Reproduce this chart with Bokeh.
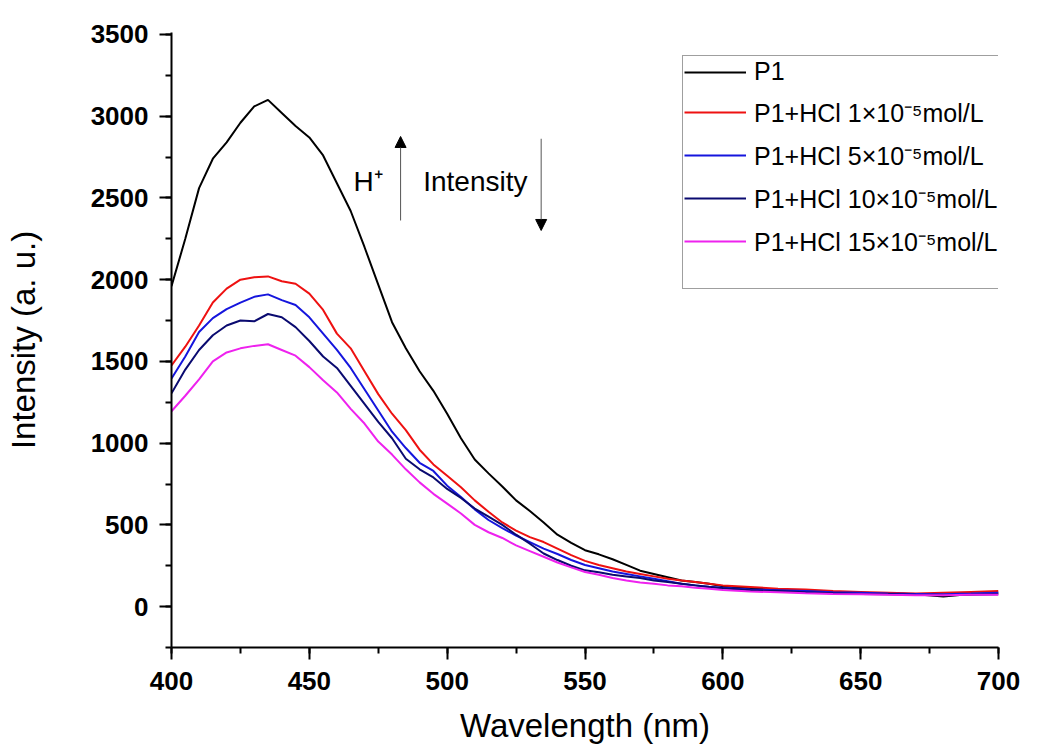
from bokeh.plotting import figure
from bokeh.models import Range1d, Legend, LegendItem, Arrow, NormalHead, Label, SingleIntervalTicker
from bokeh.embed import file_html
from bokeh.resources import INLINE

wavelength = [400, 405, 410, 415, 420, 425, 430, 435, 440, 445, 450, 455, 460, 465, 470,
              475, 480, 485, 490, 495, 500, 505, 510, 515, 520, 525, 530, 535, 540, 545,
              550, 555, 560, 565, 570, 575, 580, 585, 590, 595, 600,
              610, 620, 630, 640, 650, 660, 670, 680, 690, 700]

p1 = [1960, 2250, 2560, 2740, 2840, 2960, 3060, 3100, 3020, 2940, 2870, 2760, 2590, 2420, 2200,
      1970, 1740, 1580, 1440, 1320, 1180, 1030, 900, 815, 735, 650, 585, 515, 440, 390,
      345, 320, 290, 255, 220, 200, 180, 160, 150, 140, 125,
      112, 105, 95, 90, 85, 82, 75, 62, 78, 85]

hcl_1 = [1475, 1590, 1720, 1860, 1945, 2000, 2015, 2020, 1990, 1975, 1915, 1815, 1670, 1580, 1440,
         1300, 1180, 1080, 960, 870, 800, 730, 650, 580, 515, 465, 425, 395, 355, 315,
         280, 255, 235, 215, 200, 185, 170, 160, 150, 140, 130,
         120, 110, 105, 95, 90, 85, 80, 85, 90, 95]

hcl_5 = [1395, 1530, 1680, 1765, 1820, 1860, 1895, 1910, 1875, 1845, 1770, 1670, 1570, 1460, 1330,
         1200, 1070, 970, 880, 830, 740, 670, 595, 530, 480, 435, 395, 355, 322, 285,
         255, 235, 215, 200, 185, 170, 155, 140, 130, 122, 115,
         105, 100, 95, 88, 85, 80, 78, 76, 80, 85]

hcl_10 = [1305, 1450, 1570, 1660, 1720, 1750, 1745, 1790, 1770, 1710, 1625, 1530, 1460, 1350, 1240,
          1130, 1030, 905, 840, 790, 720, 665, 600, 550, 500, 440, 385, 325, 285, 250,
          222, 210, 195, 185, 175, 160, 150, 140, 130, 120, 112,
          100, 95, 88, 82, 78, 75, 72, 70, 72, 75]

hcl_15 = [1195, 1290, 1390, 1500, 1555, 1580, 1595, 1605, 1570, 1535, 1465, 1385, 1310, 1210, 1120,
          1010, 930, 840, 760, 690, 630, 570, 500, 455, 420, 375, 340, 305, 270, 240,
          212, 195, 175, 160, 148, 140, 130, 125, 115, 110, 102,
          92, 88, 82, 78, 75, 72, 70, 70, 72, 72]

series_labels = ["P1",
                 "P1+HCl 1\u00d710\u207b\u2075mol/L",
                 "P1+HCl 5\u00d710\u207b\u2075mol/L",
                 "P1+HCl 10\u00d710\u207b\u2075mol/L",
                 "P1+HCl 15\u00d710\u207b\u2075mol/L"]
series_values = [p1, hcl_1, hcl_5, hcl_10, hcl_15]
series_colors = ["#000000", "#ee1111", "#1515dd", "#0a0a70", "#ee22ee"]

FONT = "Liberation Sans"

p = figure(width=1030, height=752, output_backend="svg", toolbar_location=None,
           x_range=Range1d(400, 700), y_range=Range1d(-250, 3512),
           min_border_left=171, min_border_right=32, min_border_top=32, min_border_bottom=105)
p.grid.visible = False
p.outline_line_color = None
p.background_fill_color = "white"
p.border_fill_color = "white"

p.xaxis.ticker = SingleIntervalTicker(interval=50, num_minor_ticks=2)
p.yaxis.ticker = SingleIntervalTicker(interval=500, num_minor_ticks=2)

for ax in (p.xaxis[0], p.yaxis[0]):
    ax.axis_line_width = 2
    ax.axis_line_color = "black"
    ax.major_tick_line_width = 2
    ax.minor_tick_line_width = 2
    ax.major_tick_line_color = "black"
    ax.minor_tick_line_color = "black"
    ax.major_tick_in = 0
    ax.minor_tick_in = 0
    ax.major_tick_out = 12
    ax.minor_tick_out = 6
    ax.major_label_text_font = FONT
    ax.major_label_text_font_style = "bold"
    ax.major_label_text_font_size = "26px"
    ax.major_label_text_color = "black"
    ax.axis_label_text_font = FONT
    ax.axis_label_text_font_style = "normal"
    ax.axis_label_text_font_size = "33px"
    ax.axis_label_text_color = "black"

p.xaxis.axis_label = "Wavelength (nm)"
p.yaxis.axis_label = "Intensity (a. u.)"
p.xaxis.major_label_standoff = 12
p.yaxis.major_label_standoff = 11
p.xaxis.axis_label_standoff = 14
p.yaxis.axis_label_standoff = 46

renderers = []
for vals, col in zip(series_values, series_colors):
    r = p.line(wavelength, vals, line_color=col, line_width=2)
    renderers.append(r)

dummy = p.line([], [], line_alpha=0)

items = [LegendItem(label=lab, renderers=[r]) for lab, r in zip(series_labels, renderers)]
items.append(LegendItem(label=" ", renderers=[dummy]))

legend = Legend(items=items, location=(511, 358), glyph_width=62, glyph_height=20,
                label_height=20, spacing=9, padding=1, margin=0, label_standoff=8,
                border_line_color="#404040", border_line_width=1,
                background_fill_color="white", background_fill_alpha=1,
                label_text_font=FONT, label_text_font_size="25px", label_text_color="black")
p.add_layout(legend)

# annotations
ARROW_UP_X, ARROW_UP_Y0, ARROW_UP_Y1 = 483.1, 2362, 2876
ARROW_DN_X, ARROW_DN_Y0, ARROW_DN_Y1 = 534.1, 2862, 2301
TEXT_Y = 2601

p.add_layout(Arrow(end=NormalHead(size=11, fill_color="black", line_color="black"),
                   x_start=ARROW_UP_X, y_start=ARROW_UP_Y0, x_end=ARROW_UP_X, y_end=ARROW_UP_Y1,
                   line_color="#555555", line_width=1))
p.add_layout(Arrow(end=NormalHead(size=11, fill_color="black", line_color="black"),
                   x_start=ARROW_DN_X, y_start=ARROW_DN_Y0, x_end=ARROW_DN_X, y_end=ARROW_DN_Y1,
                   line_color="#555555", line_width=1))
p.add_layout(Label(x=466.0, y=TEXT_Y, text="H\u207a", text_font=FONT, text_font_size="28px",
                   text_baseline="alphabetic", text_color="black"))
p.add_layout(Label(x=491.3, y=TEXT_Y, text="Intensity", text_font=FONT, text_font_size="28px",
                   text_baseline="alphabetic", text_color="black"))

open("out.html", "w").write(file_html(p, INLINE))
